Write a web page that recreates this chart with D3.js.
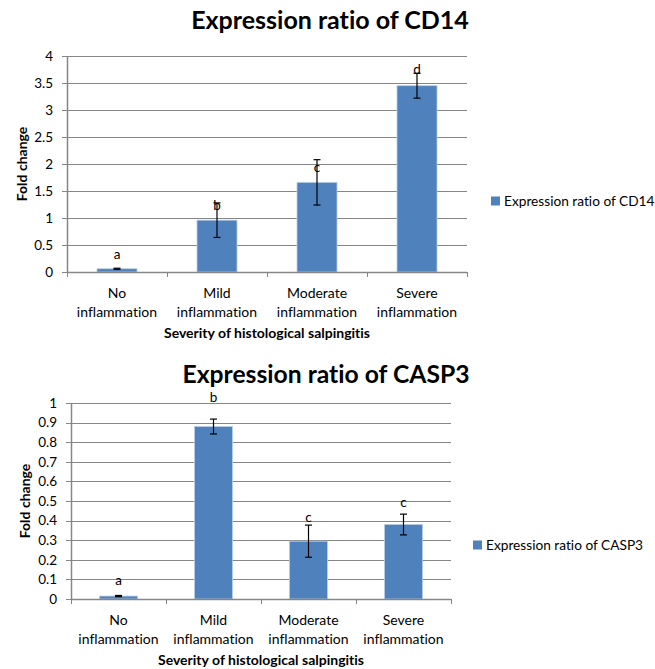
<!DOCTYPE html>
<html>
<head>
<meta charset="utf-8">
<script src="https://cdn.jsdelivr.net/npm/d3@7"></script>
<style>
body { margin: 0; background: #fff; }
text { font-family: Lato, "Open Sans", sans-serif; fill: #000; font-variant-ligatures: none; font-feature-settings: "liga" 0; }
</style>
</head>
<body>
<div id="chart"></div>
<script>
// data
const categories = [["No", "inflammation"], ["Mild", "inflammation"], ["Moderate", "inflammation"], ["Severe", "inflammation"]];

const cd14Values   = [0.06, 0.96, 1.66, 3.45];
const cd14Errors   = [0.01, 0.32, 0.42, 0.23];
const cd14Letters  = ["a", "b", "c", "d"];
const cd14LetterAt = [0.25, 1.14, 1.85, 3.67];
const cd14Ticks    = [0, 0.5, 1, 1.5, 2, 2.5, 3, 3.5, 4];

const casp3Values   = [0.015, 0.88, 0.295, 0.38];
const casp3Errors   = [0.003, 0.038, 0.082, 0.053];
const casp3Letters  = ["a", "b", "c", "c"];
const casp3LetterAt = [0.07, 1.005, 0.393, 0.469];
const casp3Ticks    = [0, 0.1, 0.2, 0.3, 0.4, 0.5, 0.6, 0.7, 0.8, 0.9, 1];

const xTitle = "Severity of histological salpingitis";
const yTitle = "Fold change";

const barColor = "#4F81BD";
const gridColor = "#868686";

let svg = d3.select('#chart').append('svg')
	.attr('width', 655)
	.attr('height', 669);

function drawChart(o) {
	let g = svg.append('g');
	let x = d3.scaleBand()
		.domain(d3.range(categories.length))
		.range([o.left, o.right])
		.paddingInner(0.6)
		.paddingOuter(0.3);
	let y = d3.scaleLinear()
		.domain([0, d3.max(o.ticks)])
		.range([o.bottom, o.top]);
	let step = x.step();

	// title
	g.append('text')
		.attr('x', o.titleX).attr('y', o.titleY)
		.attr('text-anchor', 'middle')
		.style('font-size', o.titleSize + 'px').style('font-weight', 'bold')
		.text(o.title);

	// gridlines + y ticks
	g.selectAll('line.grid').data(o.ticks).enter()
		.append('line')
		.attr('class', 'grid')
		.attr('x1', o.left - 5).attr('x2', o.right)
		.attr('y1', d => Math.round(y(d)) + 0.5).attr('y2', d => Math.round(y(d)) + 0.5)
		.style('stroke', gridColor).style('stroke-width', 1);

	g.selectAll('text.ytick').data(o.ticks).enter()
		.append('text')
		.attr('class', 'ytick')
		.attr('x', o.left - 14).attr('y', d => y(d))
		.attr('dy', '0.35em')
		.attr('text-anchor', 'end')
		.style('font-size', '13.5px')
		.text(d => d);

	// y axis line
	g.append('line')
		.attr('x1', o.left + 0.5).attr('x2', o.left + 0.5)
		.attr('y1', o.top).attr('y2', o.bottom)
		.style('stroke', gridColor).style('stroke-width', 1.5);

	// bars
	g.selectAll('rect.bar').data(o.values).enter()
		.append('rect')
		.attr('class', 'bar')
		.attr('x', (d, i) => x(i))
		.attr('width', x.bandwidth())
		.attr('y', d => y(d))
		.attr('height', d => o.bottom - y(d))
		.style('fill', barColor)
		.style('stroke', '#B9CDE5').style('stroke-width', 0.8);

	// x axis line and ticks
	g.append('line')
		.attr('x1', o.left).attr('x2', o.right)
		.attr('y1', o.bottom + 0.5).attr('y2', o.bottom + 0.5)
		.style('stroke', gridColor).style('stroke-width', 1.5);
	g.selectAll('line.xtick').data(d3.range(categories.length + 1)).enter()
		.append('line')
		.attr('class', 'xtick')
		.attr('x1', i => o.left + i * step + 0.5).attr('x2', i => o.left + i * step + 0.5)
		.attr('y1', o.bottom).attr('y2', o.bottom + 5)
		.style('stroke', gridColor).style('stroke-width', 1);

	// error bars
	let eb = g.selectAll('g.err').data(o.values).enter()
		.append('g').attr('class', 'err');
	eb.append('line')
		.attr('x1', (d, i) => x(i) + x.bandwidth() / 2).attr('x2', (d, i) => x(i) + x.bandwidth() / 2)
		.attr('y1', (d, i) => y(d + o.errors[i])).attr('y2', (d, i) => y(d - o.errors[i]))
		.style('stroke', '#000').style('stroke-width', 1.2);
	[1, -1].forEach(s => {
		eb.append('line')
			.attr('x1', (d, i) => x(i) + x.bandwidth() / 2 - 3.5).attr('x2', (d, i) => x(i) + x.bandwidth() / 2 + 3.5)
			.attr('y1', (d, i) => y(d + s * o.errors[i])).attr('y2', (d, i) => y(d + s * o.errors[i]))
			.style('stroke', '#000').style('stroke-width', 1.2);
	});

	// significance letters
	g.selectAll('text.letter').data(o.letters).enter()
		.append('text')
		.attr('class', 'letter')
		.attr('x', (d, i) => x(i) + x.bandwidth() / 2)
		.attr('y', (d, i) => y(o.letterAt[i]))
		.attr('text-anchor', 'middle')
		.style('font-size', '13.5px')
		.text(d => d);

	// category labels
	let cl = g.selectAll('text.cat').data(categories).enter()
		.append('text')
		.attr('class', 'cat')
		.attr('text-anchor', 'middle')
		.style('font-size', '14px');
	cl.append('tspan')
		.attr('x', (d, i) => x(i) + x.bandwidth() / 2)
		.attr('y', o.bottom + 26)
		.text(d => d[0]);
	cl.append('tspan')
		.attr('x', (d, i) => x(i) + x.bandwidth() / 2)
		.attr('y', o.bottom + 45)
		.text(d => d[1]);

	// axis titles
	g.append('text')
		.attr('x', (o.left + o.right) / 2).attr('y', o.bottom + 66)
		.attr('text-anchor', 'middle')
		.style('font-size', '14px').style('font-weight', 'bold')
		.text(xTitle);
	g.append('text')
		.attr('transform', `translate(${o.yTitleX},${(o.top + o.bottom) / 2}) rotate(-90)`)
		.attr('text-anchor', 'middle')
		.attr('dy', '0.35em')
		.style('font-size', '14px').style('font-weight', 'bold')
		.text(yTitle);

	// legend
	g.append('rect')
		.attr('x', o.legendX).attr('y', o.legendY - 4.5)
		.attr('width', 9).attr('height', 9)
		.style('fill', barColor);
	g.append('text')
		.attr('x', o.legendX + 13).attr('y', o.legendY)
		.attr('dy', '0.35em')
		.style('font-size', '13.7px')
		.text(o.title);
}

drawChart({
	title: "Expression ratio of CD14", titleSize: 25,
	values: cd14Values, errors: cd14Errors, letters: cd14Letters, letterAt: cd14LetterAt, ticks: cd14Ticks,
	left: 67, right: 467, top: 56, bottom: 272,
	titleX: 330, titleY: 29, yTitleX: 22, legendX: 491, legendY: 201
});

drawChart({
	title: "Expression ratio of CASP3", titleSize: 24.7,
	values: casp3Values, errors: casp3Errors, letters: casp3Letters, letterAt: casp3LetterAt, ticks: casp3Ticks,
	left: 71, right: 451, top: 403, bottom: 599,
	titleX: 326, titleY: 383, yTitleX: 25, legendX: 473, legendY: 545
});
</script>
</body>
</html>
